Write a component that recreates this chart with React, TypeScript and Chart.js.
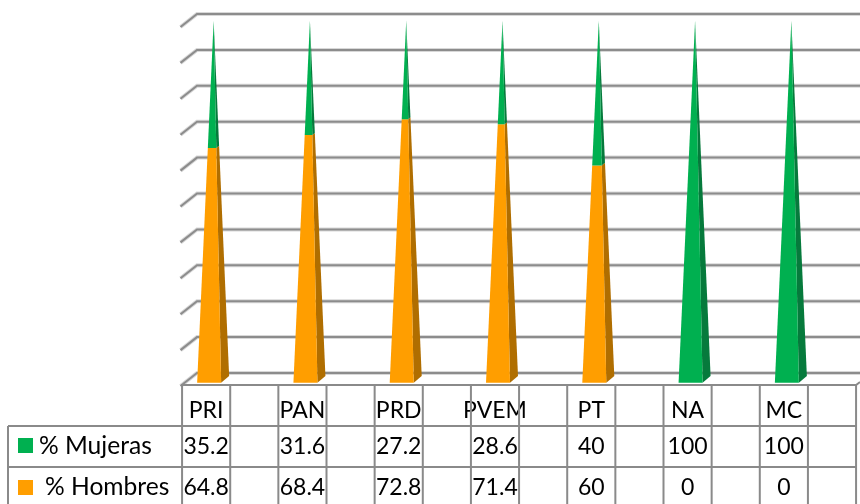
import React, { useEffect, useRef } from "react";
import { Chart, registerables } from "chart.js";

Chart.register(...registerables);

const categories = ["PRI", "PAN", "PRD", "PVEM", "PT", "NA", "MC"];
const mujeras = [35.2, 31.6, 27.2, 28.6, 40, 100, 100];
const hombres = [64.8, 68.4, 72.8, 71.4, 60, 0, 0];
const mujeresLabels = ["35.2", "31.6", "27.2", "28.6", "40", "100", "100"];
const hombresLabels = ["64.8", "68.4", "72.8", "71.4", "60", "0", "0"];

const GREEN = "#00B050";
const GREEN_DARK = "#067A3C";
const ORANGE = "#FF9E00";
const ORANGE_DARK = "#B06E00";
const GRID = "#8C8C8C";
const HALO = "#D8D8D8";
const TABLE = "#8A8A8A";
const FONT = "23px Lato";
const LEGEND_FONT = "24.6px Lato";

const wallAndFloor = {
  id: "wallAndFloor",
  beforeDatasetsDraw(chart: any) {
    const { ctx, scales, width } = chart;
    const y = scales.y;
    const y0 = y.getPixelForValue(0);
    ctx.save();
    const trace = (t: any) => {
      const front = y.getPixelForValue(t.value);
      const back = y0 - 9.7 - ((y0 - front) * 359) / 362;
      ctx.beginPath();
      ctx.moveTo(180.5, back + 13);
      ctx.lineTo(197, back);
      ctx.lineTo(width, back);
      ctx.stroke();
    };
    ctx.strokeStyle = HALO;
    ctx.lineWidth = 4;
    y.ticks.forEach(trace);
    ctx.strokeStyle = GRID;
    ctx.lineWidth = 2;
    y.ticks.forEach(trace);
    ctx.restore();
  },
};

const pyramids = {
  id: "pyramids",
  afterDatasetsDraw(chart: any) {
    const { ctx, scales } = chart;
    const y = scales.y;
    const y0 = y.getPixelForValue(0);
    const y100 = y.getPixelForValue(100);
    const span = y0 - y100;
    const depthY = 6.7;
    chart.data.datasets.forEach((ds: any, i: number) => {
      const meta = chart.getDatasetMeta(i);
      meta.data.forEach((bar: any, j: number) => {
        if (!ds.data[j]) return;
        const left = bar.x - 9;
        const right = bar.x + 15;
        const backRight = bar.x + 23;
        const apexX = bar.x + 7.5;
        const t0 = (y0 - bar.base) / span;
        const t1 = (y0 - bar.y) / span;
        const pt = (px: number, py: number, t: number): [number, number] => [
          px + (apexX - px) * t,
          py + (y100 - py) * t,
        ];
        const poly = (pts: [number, number][], fill: string) => {
          ctx.beginPath();
          pts.forEach((p, k) => (k ? ctx.lineTo(p[0], p[1]) : ctx.moveTo(p[0], p[1])));
          ctx.closePath();
          ctx.fillStyle = fill;
          ctx.fill();
        };
        poly(
          [pt(right, y0, t0), pt(backRight, y0 - depthY, t0), pt(backRight, y0 - depthY, t1), pt(right, y0, t1)],
          ds.sideColor
        );
        poly([pt(left, y0, t0), pt(right, y0, t0), pt(right, y0, t1), pt(left, y0, t1)], ds.frontColor);
      });
    });
  },
};

const dataTable = {
  id: "dataTable",
  afterDraw(chart: any) {
    const { ctx, scales, width, height } = chart;
    const x = scales.x;
    const band = (x.getPixelForValue(1) - x.getPixelForValue(0)) / 2;
    const tableLeft = x.getPixelForValue(0) - band / 2;
    const tableRight = tableLeft + band * 14;
    const topY = 385;
    const rows = [426, 467];
    ctx.save();
    ctx.strokeStyle = TABLE;
    ctx.lineWidth = 2;
    ctx.beginPath();
    for (let k = 0; k <= 14; k++) {
      const vx = tableLeft + band * k;
      ctx.moveTo(vx, topY);
      ctx.lineTo(vx, height);
    }
    ctx.moveTo(tableLeft - 1, topY);
    ctx.lineTo(tableRight, topY);
    ctx.lineTo(width, topY - 3);
    rows.forEach((r) => {
      ctx.moveTo(8, r);
      ctx.lineTo(tableRight + 1, r);
    });
    ctx.moveTo(8, rows[0]);
    ctx.lineTo(8, height);
    ctx.stroke();

    ctx.fillStyle = GREEN;
    ctx.fillRect(18, 438, 15, 15);
    ctx.fillStyle = ORANGE;
    ctx.fillRect(18, 480, 15, 15);

    ctx.fillStyle = "#000";
    ctx.font = LEGEND_FONT;
    ctx.textBaseline = "alphabetic";
    ctx.textAlign = "left";
    ctx.fillText("% Mujeras", 39, 454);
    ctx.fillText("% Hombres", 45, 495);
    ctx.font = FONT;
    ctx.textAlign = "center";
    categories.forEach((_, k) => {
      const cx = x.getPixelForValue(k);
      ctx.fillText(mujeresLabels[k], cx, 454);
      ctx.fillText(hombresLabels[k], cx, 495);
    });
    ctx.restore();
  },
};

export default function App() {
  const ref = useRef<HTMLCanvasElement>(null);
  useEffect(() => {
    const chart = new Chart(ref.current!, {
      type: "bar",
      data: {
        labels: categories,
        datasets: [
          {
            label: "% Hombres",
            data: hombres,
            backgroundColor: "rgba(0,0,0,0)",
            frontColor: ORANGE,
            sideColor: ORANGE_DARK,
            barThickness: 32,
          } as any,
          {
            label: "% Mujeras",
            data: mujeras,
            backgroundColor: "rgba(0,0,0,0)",
            frontColor: GREEN,
            sideColor: GREEN_DARK,
            barThickness: 32,
          } as any,
        ],
      },
      options: {
        responsive: false,
        animation: false,
        devicePixelRatio: 1,
        layout: { padding: { left: 158, right: 28, top: 20.7, bottom: 0 } },
        plugins: { legend: { display: false }, tooltip: { enabled: false } },
        scales: {
          x: {
            stacked: true,
            grid: { display: false, drawTicks: false },
            border: { display: false },
            ticks: { color: "#000", font: { family: "Lato", size: 23 }, padding: 14, maxRotation: 0, autoSkip: false },
            afterFit(scale: any) {
              scale.height = 121.3;
            },
          },
          y: {
            stacked: true,
            display: false,
            min: 0,
            max: 100,
            ticks: { stepSize: 10 },
          },
        },
      } as any,
      plugins: [wallAndFloor, pyramids, dataTable],
    });
    return () => chart.destroy();
  }, []);
  return (
    <canvas
      ref={ref}
      width={860}
      height={504}
      style={{ position: "absolute", left: 0, top: 0, display: "block", width: 860, height: 504 }}
    />
  );
}
